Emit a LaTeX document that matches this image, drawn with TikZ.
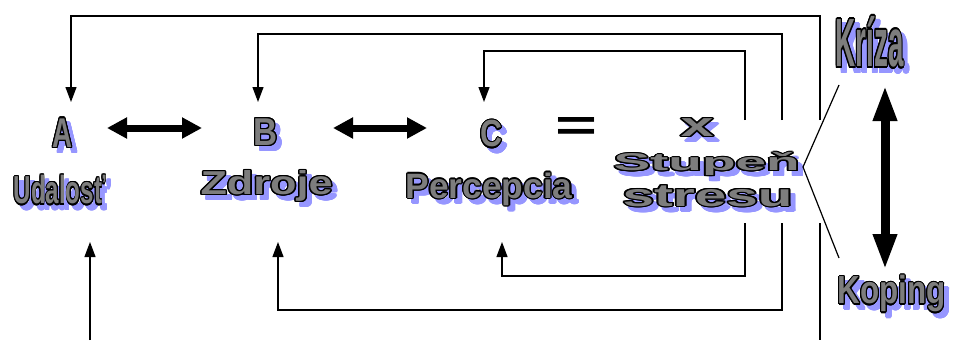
\documentclass[tikz,border=0pt]{standalone}
\usepackage{fontspec}
\setmainfont{Liberation Sans}
\usepackage{graphicx}
\usepackage[copies]{contour}
\usetikzlibrary{arrows.meta}
\definecolor{artfill}{RGB}{125,125,125}
\definecolor{artshadow}{RGB}{150,150,255}
\contourlength{1.2pt}
% outlined word with a blue shadow, squeezed into width #1 and total height #2
\newcommand{\artword}[3]{%
  \rlap{\kern5pt\raisebox{-5pt}[0pt][0pt]{\resizebox*{#1}{#2}{\textcolor{artshadow}{\contour{artshadow}{#3}}}}}%
  \resizebox*{#1}{#2}{\textcolor{artfill}{\contour{black}{#3}}}}

\tikzset{every picture/.style={line width=1.2pt}}
\tikzset{
  artlabel/.style={anchor=north west,inner sep=0pt,font=\fontsize{36}{40}\selectfont\bfseries},
  loopline/.style={-{Triangle[length=15pt,width=11pt]}},
  bigarrow/.style={line width=7pt,{Triangle[length=20pt,width=20pt]}-{Triangle[length=20pt,width=20pt]}},
  hugearrow/.style={line width=9pt,{Triangle[length=36pt,width=22pt]}-{Triangle[length=36pt,width=22pt]}}
}

\begin{document}
\begin{tikzpicture}[x=1pt,y=1pt,yscale=-1,xscale=1]
\useasboundingbox [fill=white] (0,0) rectangle (953,340);

% Text Node
\node (A) at (52,118) [artlabel] {\artword{20pt}{30pt}{A}};
% Text Node
\node (event) at (13,175) [artlabel] {\artword{92pt}{30pt}{Udalosť}};
% Text Node
\node (B) at (253,118) [artlabel] {\artword{24pt}{28pt}{B}};
% Text Node
\node (resources) at (200,170) [artlabel] {\artword{132pt}{32pt}{Zdroje}};
% Text Node
\node (C) at (480,120) [artlabel] {\artword{22pt}{28pt}{C}};
% Text Node
\node (perception) at (405,172) [artlabel] {\artword{167pt}{34pt}{Percepcia}};
% Text Node
\node (eq) at (555,117) [artlabel] {\resizebox*{42pt}{23pt}{=}};
% Text Node
\node (times) at (680,118) [artlabel] {\artword{33pt}{19pt}{x}};
% Text Node
\node (degree) at (613,152) [artlabel] {\artword{186pt}{24pt}{Stupeň}};
% Text Node
\node (stress) at (622,185) [artlabel] {\artword{170pt}{22pt}{stresu}};
% Text Node
\node (crisis) at (835,16) [artlabel] {\artword{68pt}{53pt}{Kríza}};
% Text Node
\node (coping) at (837,275) [artlabel] {\artword{108pt}{38pt}{Koping}};

% ends of the feedback lines
\coordinate (outerTop) at (820,120);
\coordinate (midTop) at (782,120);
\coordinate (innerTop) at (745,120);
\coordinate (outerBot) at (820,223);
\coordinate (midBot) at (782,223);
\coordinate (innerBot) at (745,223);
\coordinate (tipA) at (71,102);
\coordinate (tipB) at (258,102);
\coordinate (tipC) at (484,102);
\coordinate (tipBb) at (278,242);
\coordinate (tipCb) at (502,242);
\coordinate (tipEv) at (90,242);
\coordinate (footEv) at (90,340);
\coordinate (footOut) at (820,340);
\coordinate (apex) at (803,167);
\coordinate (kr) at (839,85);
\coordinate (ko) at (839,258);

%Straight Lines
\draw [loopline] (outerTop) -- (820,16) -| (tipA);
\draw [loopline] (midTop) -- (782,34) -| (tipB);
\draw [loopline] (innerTop) -- (745,51) -| (tipC);
\draw [loopline] (innerBot) -- (745,276) -| (tipCb);
\draw [loopline] (midBot) -- (782,310) -| (tipBb);
\draw [loopline] (footEv) -- (tipEv);
\draw (outerBot) -- (footOut);
%Straight Lines
\draw (kr) -- (apex) -- (ko);

%Double arrows
\coordinate (ab1) at (107,128);
\coordinate (ab2) at (202,128);
\coordinate (bc1) at (333,128);
\coordinate (bc2) at (427,128);
\coordinate (kk1) at (885,85);
\coordinate (kk2) at (885,270);
\draw [bigarrow] (ab1) -- (ab2);
\draw [bigarrow] (bc1) -- (bc2);
\draw [hugearrow] (kk1) -- (kk2);
\end{tikzpicture}
\end{document}
